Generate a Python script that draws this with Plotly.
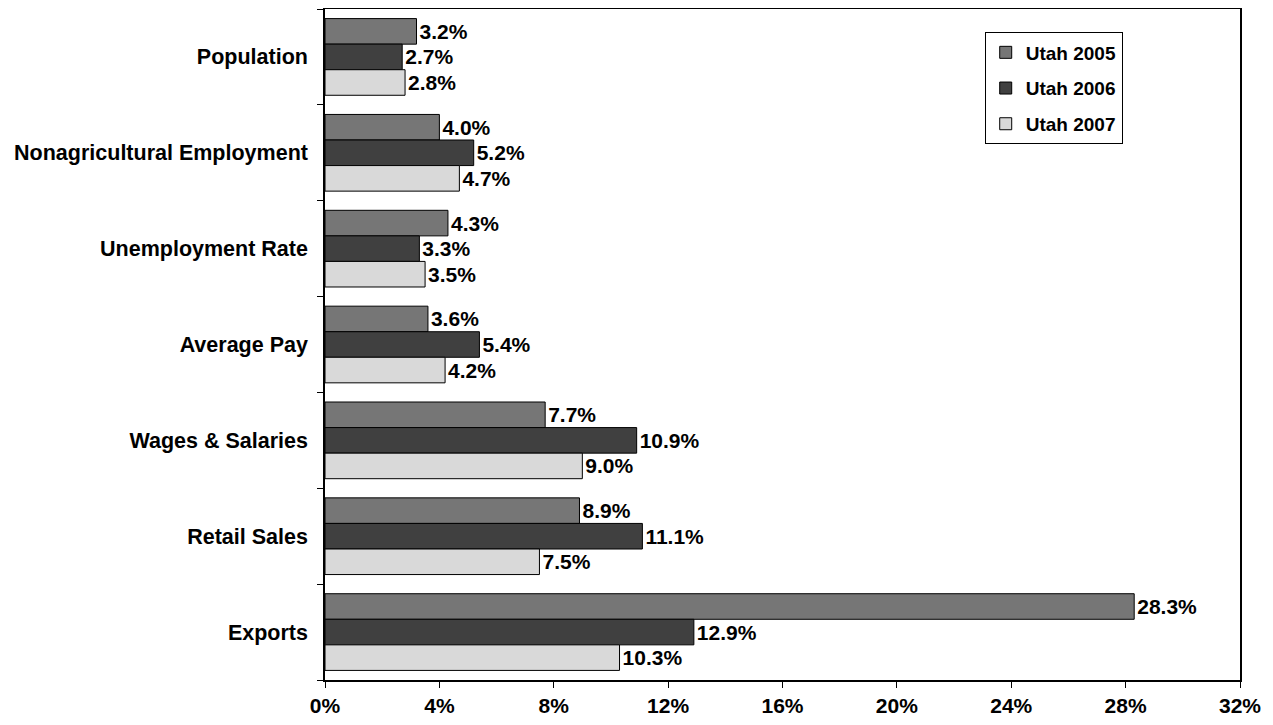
import plotly.graph_objects as go

categories = ["Population", "Nonagricultural Employment", "Unemployment Rate",
              "Average Pay", "Wages & Salaries", "Retail Sales", "Exports"]
utah_2005 = [3.2, 4.0, 4.3, 3.6, 7.7, 8.9, 28.3]
utah_2006 = [2.7, 5.2, 3.3, 5.4, 10.9, 11.1, 12.9]
utah_2007 = [2.8, 4.7, 3.5, 4.2, 9.0, 7.5, 10.3]
series_names = ["Utah 2005", "Utah 2006", "Utah 2007"]
colors = ["#767676", "#404040", "#d9d9d9"]
x_ticks = [0, 4, 8, 12, 16, 20, 24, 28, 32]

font_family = "Liberation Sans, Arial, sans-serif"

fig = go.Figure()
for name, vals, col in zip(series_names, [utah_2005, utah_2006, utah_2007], colors):
    fig.add_trace(go.Bar(
        y=categories, x=vals, name=name, orientation="h", legendgroup=name,
        marker=dict(color=col, line=dict(color="black", width=1)),
        texttemplate="<b>%{x:.1f}%</b>", textposition="outside",
        textfont=dict(family=font_family, size=21, color="black"),
        cliponaxis=False,
    ))

# page body has an 8px default margin; size the figure so the plot area lands
# where the reference has it
fig.update_layout(
    width=1257, height=709,
    margin=dict(l=317, r=25, t=1, b=37, pad=0),
    barmode="group", bargap=0.2, bargroupgap=0,
    plot_bgcolor="white", paper_bgcolor="white",
    font=dict(family=font_family, size=20, color="black"),
    showlegend=True,
    legend=dict(
        x=0.721, y=0.965, xanchor="left", yanchor="top",
        bordercolor="black", borderwidth=1, bgcolor="white",
        font=dict(family=font_family, size=19, color="black", weight="bold"),
        traceorder="grouped", tracegroupgap=8, itemwidth=30,
    ),
    uniformtext=dict(mode=False),
)
fig.update_xaxes(
    range=[0, 32], tickvals=x_ticks, ticktext=[f"<b>{v}%</b>" for v in x_ticks],
    showgrid=False, zeroline=False, automargin=False,
    showline=True, linecolor="black", linewidth=1.5, mirror=True,
    ticks="outside", ticklen=6, tickcolor="black",
    tickfont=dict(family=font_family, size=21, color="black"),
)
fig.update_yaxes(
    autorange="reversed", showgrid=False, automargin=False,
    showline=True, linecolor="black", linewidth=1.5, mirror=True,
    ticks="outside", ticklen=6, tickcolor="black", tickson="boundaries",
    tickvals=categories, ticktext=[f"<b>{c}</b>" for c in categories],
    tickfont=dict(family=font_family, size=21.5, color="black"),
    ticklabelstandoff=11,
)

fig.write_html("out.html")
